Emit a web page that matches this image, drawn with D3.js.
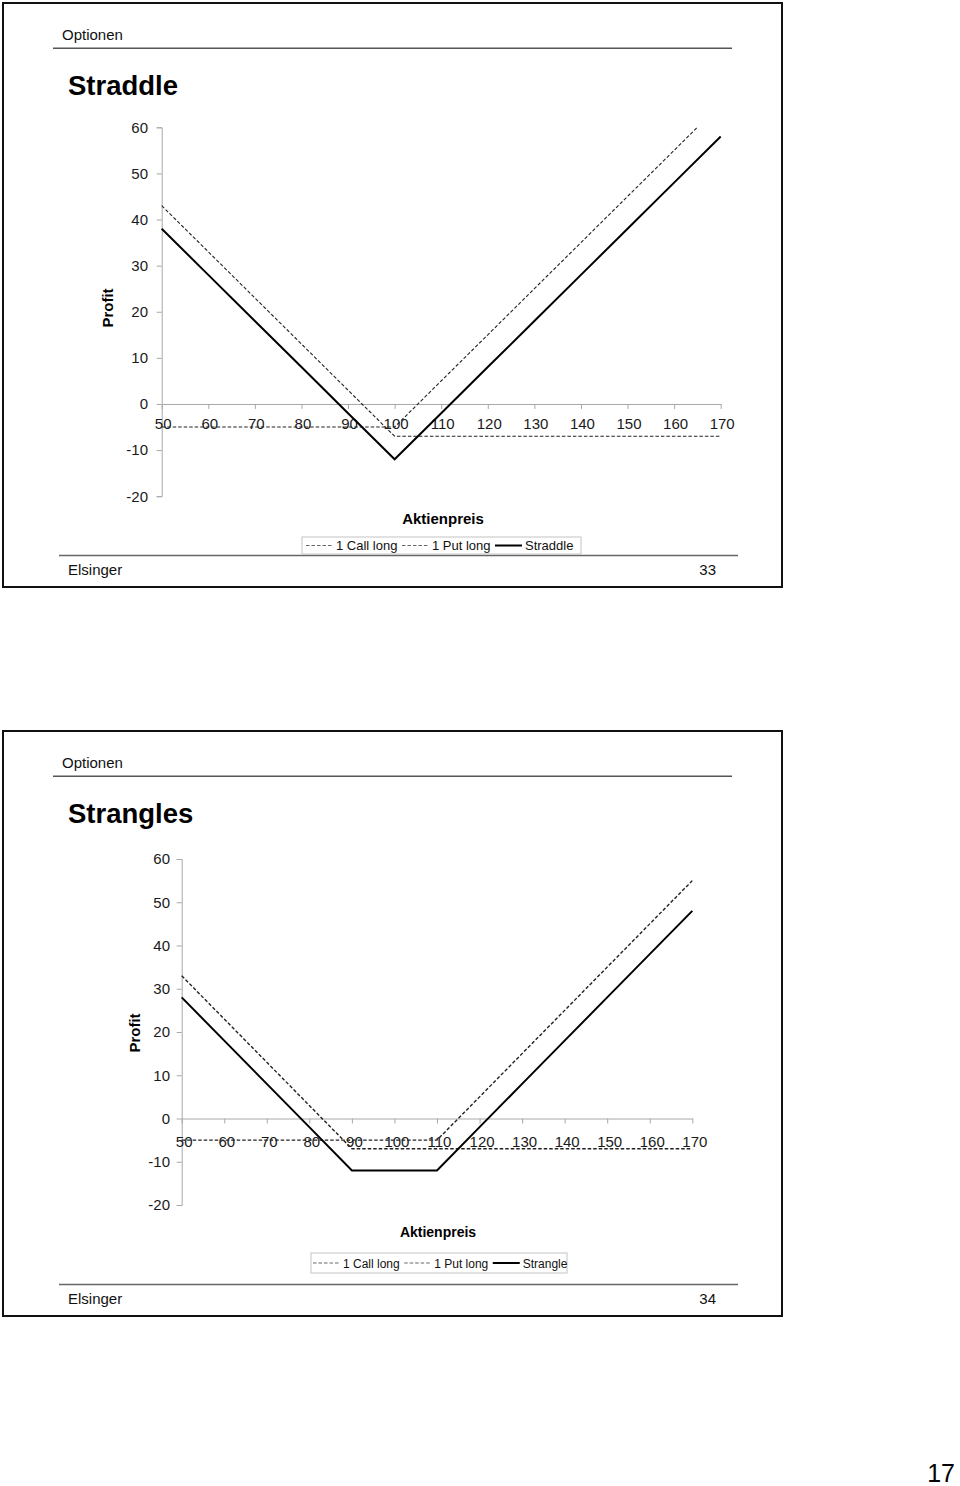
<!DOCTYPE html>
<html>
<head>
<meta charset="utf-8">
<script src="https://cdn.jsdelivr.net/npm/d3@7"></script>
<style>
  html, body { margin: 0; padding: 0; background: #fff; }
  svg { display: block; }
  text { font-family: "Liberation Sans", Arial, Helvetica, sans-serif; }
</style>
</head>
<body>
<svg id="page" width="960" height="1486"></svg>
<script>
// ---------- DATA ----------
const aktienpreis = [50, 60, 70, 80, 90, 100, 110, 120, 130, 140, 150, 160, 170];
const xTickLabels = [50, 60, 70, 80, 90, 100, 110, 120, 130, 140, 150, 160, 170];
const yTickLabels = [-20, -10, 0, 10, 20, 30, 40, 50, 60];

// Straddle (strike 100)
const straddleCallLong = [-5, -5, -5, -5, -5, -5, 5, 15, 25, 35, 45, 55, 65];
const straddlePutLong  = [43, 33, 23, 13, 3, -7, -7, -7, -7, -7, -7, -7, -7];
const straddleTotal    = [38, 28, 18, 8, -2, -12, -2, 8, 18, 28, 38, 48, 58];

// Strangle (put strike 90, call strike 110)
const strangleCallLong = [-5, -5, -5, -5, -5, -5, -5, 5, 15, 25, 35, 45, 55];
const stranglePutLong  = [33, 23, 13, 3, -7, -7, -7, -7, -7, -7, -7, -7, -7];
const strangleTotal    = [28, 18, 8, -2, -12, -12, -12, -2, 8, 18, 28, 38, 48];

const legendStraddle = ["1 Call long", "1 Put long", "Straddle"];
const legendStrangle = ["1 Call long", "1 Put long", "Strangle"];

// ---------- LAYOUT ----------
const pages = [
  {
    top: 3, bottom: 587, title: "Straddle", pageNo: "33",
    series: [straddleCallLong, straddlePutLong, straddleTotal],
    legend: legendStraddle,
    x0: 161.7, x1: 720.7, yTop: 127.3, yBot: 496.2,
    yPad: 8.7, xLabelDy: 25, tickFont: 15,
    profitX: 108, profitY: 308,
    axTitleX: 443, axTitleY: 524, axTitleFont: 15,
    legBox: [302, 537, 581, 554], legStart: 306, legFont: 13, legBase: 550, dashW: 1.1
  },
  {
    top: 731, bottom: 1316, title: "Strangles", pageNo: "34",
    series: [strangleCallLong, stranglePutLong, strangleTotal],
    legend: legendStrangle,
    x0: 181.7, x1: 692.3, yTop: 859, yBot: 1205,
    yPad: 6.7, xLabelDy: 28, tickFont: 15,
    profitX: 135, profitY: 1033,
    axTitleX: 438, axTitleY: 1237, axTitleFont: 14,
    legBox: [311, 1253, 567, 1273], legStart: 313, legFont: 12, legBase: 1268, dashW: 1.4
  }
];

const svg = d3.select("#page");
const fmt = d => String(d);

pages.forEach((p, pi) => {
  const g = svg.append("g");

  // frame
  g.append("rect").attr("x", 3).attr("y", p.top).attr("width", 779).attr("height", p.bottom - p.top)
    .attr("fill", "none").attr("stroke", "#111").attr("stroke-width", 2);

  // header
  g.append("text").attr("x", 62).attr("y", p.top + 37).attr("font-size", 15).attr("fill", "#111").text("Optionen");
  g.append("line").attr("x1", 53).attr("x2", 732).attr("y1", p.top + 45.3).attr("y2", p.top + 45.3)
    .attr("stroke", "#555").attr("stroke-width", 1.5);
  g.append("text").attr("x", 68).attr("y", p.top + 92).attr("font-size", 27.5).attr("font-weight", "bold")
    .attr("fill", "#000").text(p.title);

  // footer
  g.append("line").attr("x1", 59).attr("x2", 738).attr("y1", p.bottom - 31.5).attr("y2", p.bottom - 31.5)
    .attr("stroke", "#666").attr("stroke-width", 1.5);
  g.append("text").attr("x", 68).attr("y", p.bottom - 12).attr("font-size", 15).attr("fill", "#111").text("Elsinger");
  g.append("text").attr("x", 716).attr("y", p.bottom - 12).attr("font-size", 15).attr("text-anchor", "end")
    .attr("fill", "#111").text(p.pageNo);

  // scales
  const x = d3.scaleLinear().domain([50, 170]).range([p.x0, p.x1]);
  const y = d3.scaleLinear().domain([-20, 60]).range([p.yBot, p.yTop]);

  // y axis
  const yAx = g.append("g").attr("transform", `translate(${p.x0},0)`)
    .call(d3.axisLeft(y).tickValues(yTickLabels).tickSize(5).tickPadding(p.yPad).tickFormat(fmt));
  yAx.attr("font-size", p.tickFont).attr("font-family", '"Liberation Sans", Arial, sans-serif');
  yAx.select(".domain").attr("stroke", "#a8a8a8");
  yAx.selectAll(".tick line").attr("stroke", "#a8a8a8");
  yAx.selectAll(".tick text").attr("fill", "#1a1a1a");

  // x axis at zero
  const xAx = g.append("g").attr("transform", `translate(0,${y(0)})`)
    .call(d3.axisBottom(x).tickValues(xTickLabels).tickSize(5).tickSizeOuter(0).tickFormat(fmt));
  xAx.attr("font-size", p.tickFont).attr("font-family", '"Liberation Sans", Arial, sans-serif');
  xAx.select(".domain").attr("stroke", "#a8a8a8");
  xAx.selectAll(".tick line").attr("stroke", "#a8a8a8");
  xAx.selectAll(".tick text").attr("fill", "#1a1a1a")
    .attr("y", p.xLabelDy).attr("dy", 0).attr("dx", pi === 1 ? 2 : 1);

  // axis titles
  g.append("text").attr("transform", `translate(${p.profitX + 5},${p.profitY}) rotate(-90)`)
    .attr("text-anchor", "middle").attr("font-size", 15).attr("font-weight", "bold").attr("fill", "#000").text("Profit");
  g.append("text").attr("x", p.axTitleX).attr("y", p.axTitleY).attr("text-anchor", "middle")
    .attr("font-size", p.axTitleFont).attr("font-weight", "bold").attr("fill", "#000").text("Aktienpreis");

  // clip
  const clipId = "clip" + pi;
  g.append("clipPath").attr("id", clipId).append("rect")
    .attr("x", x(50) - 1).attr("y", y(60)).attr("width", x(170) - x(50) + 2).attr("height", y(-20) - y(60));

  const line = d3.line().x((d, i) => x(aktienpreis[i])).y(d => y(d));
  const styles = [
    { stroke: "#222", width: p.dashW, dash: "3.5,2" },
    { stroke: "#222", width: p.dashW, dash: "3.5,2" },
    { stroke: "#000", width: 2, dash: null }
  ];
  const lines = g.append("g").attr("clip-path", `url(#${clipId})`);
  p.series.forEach((s, si) => {
    lines.append("path").datum(s).attr("d", line).attr("fill", "none")
      .attr("stroke", styles[si].stroke).attr("stroke-width", styles[si].width)
      .attr("stroke-dasharray", styles[si].dash);
  });

  // legend
  const [lx0, ly0, lx1, ly1] = p.legBox;
  g.append("rect").attr("x", lx0).attr("y", ly0).attr("width", lx1 - lx0).attr("height", ly1 - ly0)
    .attr("fill", "#fff").attr("stroke", "#c4c4c4").attr("stroke-width", 1);
  let cx = p.legStart;
  const midY = (ly0 + ly1) / 2;
  p.legend.forEach((name, li) => {
    const st = styles[li];
    g.append("line").attr("x1", cx).attr("x2", cx + 27).attr("y1", midY).attr("y2", midY)
      .attr("stroke", li < 2 ? "#666" : "#000").attr("stroke-width", li < 2 ? 1 : 2)
      .attr("stroke-dasharray", li < 2 ? "3.5,2" : null);
    cx += 30;
    const t = g.append("text").attr("x", cx).attr("y", p.legBase).attr("font-size", p.legFont)
      .attr("fill", "#111").text(name);
    cx += t.node().getComputedTextLength() + 4.5;
  });
});

// page number
svg.append("text").attr("x", 955).attr("y", 1482).attr("text-anchor", "end")
  .attr("font-family", '"Liberation Serif", "Times New Roman", serif').attr("font-size", 25)
  .attr("fill", "#000").text("17");
</script>
</body>
</html>
